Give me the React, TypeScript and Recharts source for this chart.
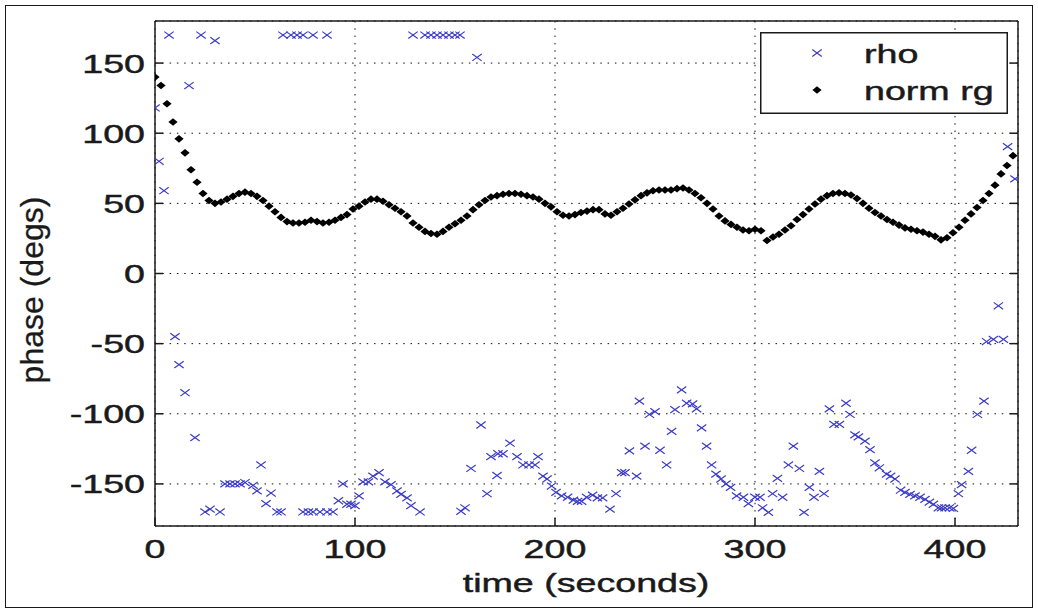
import {
  CartesianGrid,
  Legend,
  Scatter,
  ScatterChart,
  XAxis,
  YAxis,
} from 'recharts';

// rho: scattered phase estimates (time s, phase deg)
const rhoTime = [
  0, 2, 4.5, 7, 17, 23, 30, 64, 68, 71, 74, 79, 86, 129, 135, 138, 141, 144, 147, 150, 152.5, 161,
  10, 12, 15, 20, 25, 27.5, 32.5, 35, 37.5, 40, 42.5, 45, 49, 51, 53, 55.5, 58, 61, 63,
  74, 76.7, 79, 82.5, 86, 89, 91.7, 94, 96, 98, 100, 102, 104, 106.7, 109, 112, 115, 118, 121, 123, 126, 128, 132.5,
  153, 155, 158, 163, 166, 168, 171, 171.5, 174, 177.5, 181, 184, 187, 190, 191.5, 194, 196,
  198.3, 200.5, 203.3, 206.3, 209.2, 211.3, 213.3, 215.8, 218.8, 221.2, 223.8, 227.5, 230.5, 233.3, 235, 237.2,
  240.8, 242.2, 245, 247.2, 250, 252.5, 255.8, 258.3, 260, 263.3, 265.8, 268.8, 270.8, 273.3, 275.8, 278.3,
  280.5, 283, 285.5, 287.8, 290.8, 294.2, 296.7, 300, 302.5, 303.8, 306.7, 308.8, 311.2, 313.8, 316.7, 319.2,
  322.2, 324.5, 327.2, 329.5, 332.2, 334.5, 337.2, 339.5, 342.2, 345.5, 347.5, 350, 351.7, 355, 357.5, 360,
  362.2, 365.8, 367.8, 370, 372.8, 375, 377.5, 380, 382.5, 385, 387.2, 389.2, 391.7, 393.3, 395, 397.2, 399.2,
  401.7, 403.3, 406.7, 408.3, 411.2, 414.5, 415.8, 419.2, 421.7, 424.2, 426.3, 430,
];
const rhoPhase = [
  118, 80, 59, 170, 134, 170, 166, 170, 170, 170, 170, 170, 170, 170, 170, 170, 170, 170, 170, 170, 170, 154,
  -45, -65, -85, -117, -170, -168, -170, -150, -150, -150, -150, -149, -151, -155, -136.5, -164, -156.5, -170, -170,
  -170, -170, -170, -170, -170, -170, -162, -150, -164.5, -164.5, -165.5, -158.5, -148.5, -148.5, -144.5, -142, -148.5, -150.5, -155, -157.5, -160, -165.5, -170,
  -169.5, -167, -139, -108, -157, -130.5, -144, -128.5, -128.5, -121, -130.5, -136.5, -136.5, -136.5, -130.5, -144.5, -146.5,
  -151.5, -156, -158.5, -159.5, -161.5, -162.5, -162.5, -159.5, -158, -160, -160, -168, -157, -142, -142, -126.5,
  -144.5, -91, -123, -100.5, -98.5, -126, -136.5, -112.5, -97, -83, -92.5, -93, -96.5, -110, -123, -136.5,
  -143, -146.5, -150, -152.5, -158.5, -159.5, -164, -159.5, -159.5, -167, -170.3, -157, -146, -159.5, -136.5, -123,
  -139, -170.3, -152.5, -159.5, -141, -157, -96.5, -107.5, -107.5, -92.5, -100.5, -115, -116.5, -119.5, -125.5, -135,
  -138.5, -143, -144.5, -146.5, -154.5, -156, -157.5, -158.5, -159.5, -161, -163, -164.5, -167, -167, -167, -167, -167.5,
  -157, -150.5, -141, -126, -100.5, -91, -48.5, -47, -23, -47, 90.5, 67.5,
];

// norm rg: sampled every 3 s from t = 0
const RG_STEP = 3;
const rgPhase = [
  140, 134, 121, 108, 96, 86, 74, 65, 57, 52,
  50, 51, 53, 55, 57, 58, 57, 55, 52, 48,
  44, 40, 37, 36, 36, 36.5, 38, 37, 36, 36.5,
  38, 40, 42, 46, 48, 51, 53, 53, 51.5, 49,
  46.5, 44, 41, 36, 33, 30, 28.5, 28, 30, 33,
  35.5, 38, 41, 45.5, 49, 52, 54.5, 55.5, 56.5, 57,
  57, 56.5, 55.5, 54.5, 53, 50, 47.5, 44, 41.5, 41,
  42, 43.5, 44.5, 45.5, 45.5, 42.5, 41.5, 44, 46.5, 49.5,
  52.5, 55.5, 57.5, 59, 59.5, 59.5, 59.5, 60.5, 61, 59.5,
  57, 54, 50, 46, 41, 37.5, 35, 33, 31, 30.5,
  31.5, 30.5, 23.5, 26, 28, 31, 34, 38.5, 42, 46,
  49.5, 53, 55.5, 57, 57.5, 57, 56, 53.5, 50, 46.5,
  43.5, 41, 38.5, 36.5, 34.5, 32.5, 31.5, 30.5, 29.5, 28,
  26.5, 24, 25.5, 29, 33, 38, 42.5, 47, 52, 57,
  63, 71, 77, 84,
];

const xTicks = [0, 100, 200, 300, 400];
const yTicks = [-150, -100, -50, 0, 50, 100, 150];

const rhoData = rhoTime.map((t, i) => ({ t, v: rhoPhase[i] }));
const rgData = rgPhase.map((v, i) => ({ t: i * RG_STEP, v }));

const FONT = '"Liberation Sans", Arial, Helvetica, sans-serif';
const FS = 26.5;
const SX = 1.42;
const INK = '#1a1a1a';
const BLUE = '#3a3ac6';

function Stretch({ x, y, anchor, children }: any) {
  return (
    <text
      transform={`translate(${x},${y}) scale(${SX},1)`}
      textAnchor={anchor}
      fontFamily={FONT}
      fontSize={FS}
      fill={INK}
      stroke={INK}
      strokeWidth={0.45}
    >
      {children}
    </text>
  );
}

function LeftTick({ x, y, payload }: any) {
  return (
    <g>
      <line x1={x} y1={y} x2={x + 8} y2={y} stroke={INK} strokeWidth={1.5} />
      <Stretch x={x - 10} y={y + 9.5} anchor="end">{payload.value}</Stretch>
    </g>
  );
}

function RightTick({ x, y }: any) {
  return <line x1={x} y1={y} x2={x - 8} y2={y} stroke={INK} strokeWidth={1.5} />;
}

function BottomTick({ x, y, payload }: any) {
  return (
    <g>
      <line x1={x} y1={y} x2={x} y2={y - 8} stroke={INK} strokeWidth={1.5} />
      <Stretch x={x} y={y + 32} anchor="middle">{payload.value}</Stretch>
    </g>
  );
}

function TopTick({ x, y }: any) {
  return <line x1={x} y1={y} x2={x} y2={y + 8} stroke={INK} strokeWidth={1.5} />;
}

function Cross({ cx, cy }: any) {
  const rx = 4.7;
  const ry = 3.4;
  return (
    <g stroke={BLUE} strokeWidth={1.2}>
      <line x1={cx - rx} y1={cy - ry} x2={cx + rx} y2={cy + ry} />
      <line x1={cx - rx} y1={cy + ry} x2={cx + rx} y2={cy - ry} />
    </g>
  );
}

function Diamond({ cx, cy }: any) {
  const rx = 4.6;
  const ry = 3.8;
  return (
    <polygon
      points={`${cx},${cy - ry} ${cx + rx},${cy} ${cx},${cy + ry} ${cx - rx},${cy}`}
      fill="#000"
    />
  );
}

function LegendBox() {
  return (
    <svg width={248} height={82} style={{ display: 'block' }}>
      <rect x={0.75} y={0.75} width={246.5} height={80.5} fill="#fff" stroke={INK} strokeWidth={1.5} />
      <Cross cx={57} cy={21} />
      <Diamond cx={57} cy={58} />
      <Stretch x={104} y={31} anchor="start">rho</Stretch>
      <Stretch x={104} y={68} anchor="start">norm rg</Stretch>
    </svg>
  );
}

export default function App() {
  return (
    <div style={{ position: 'absolute', left: 0, top: 0, width: 1038, height: 613, background: '#fff' }}>
      <ScatterChart width={1038} height={613} margin={{ top: 0, right: 0, bottom: 0, left: 0 }}>
        <CartesianGrid stroke="#111" strokeDasharray="1.5 5.8" />
        <XAxis
          dataKey="t"
          type="number"
          domain={[0, 431.5]}
          ticks={xTicks}
          allowDataOverflow
          height={87}
          tickSize={0}
          tickMargin={0}
          tick={<BottomTick />}
          axisLine={{ stroke: INK, strokeWidth: 1.5 }}
          label={{
            content: () => <Stretch x={586} y={592} anchor="middle">time (seconds)</Stretch>,
          }}
        />
        <XAxis
          xAxisId="top"
          orientation="top"
          type="number"
          domain={[0, 431.5]}
          ticks={xTicks}
          allowDataOverflow
          height={21}
          tickSize={0}
          tickMargin={0}
          tick={<TopTick />}
          axisLine={{ stroke: INK, strokeWidth: 1.5 }}
        />
        <YAxis
          dataKey="v"
          type="number"
          domain={[-180, 180]}
          ticks={yTicks}
          allowDataOverflow
          width={155}
          tickSize={0}
          tickMargin={0}
          tick={<LeftTick />}
          axisLine={{ stroke: INK, strokeWidth: 1.5 }}
          label={{
            content: () => (
              <text
                transform="translate(43,290) rotate(-90)"
                textAnchor="middle"
                fontFamily={FONT}
                fontSize={32}
                fill={INK}
                stroke={INK}
                strokeWidth={0.3}
              >
                phase (degs)
              </text>
            ),
          }}
        />
        <YAxis
          yAxisId="right"
          orientation="right"
          type="number"
          domain={[-180, 180]}
          ticks={yTicks}
          allowDataOverflow
          width={20}
          tickSize={0}
          tickMargin={0}
          tick={<RightTick />}
          axisLine={{ stroke: INK, strokeWidth: 1.5 }}
        />
        <Scatter name="rho" data={rhoData} shape={<Cross />} isAnimationActive={false} />
        <Scatter name="norm rg" data={rgData} shape={<Diamond />} isAnimationActive={false} />
        <Legend
          layout="vertical"
          align="center"
          verticalAlign="middle"
          wrapperStyle={{ left: 760, top: 32, width: 248, height: 82 }}
          content={() => <LegendBox />}
        />
      </ScatterChart>
      <div
        style={{
          position: 'absolute',
          left: 5,
          top: 5,
          width: 1028,
          height: 603,
          border: `1.5px solid ${INK}`,
          boxSizing: 'border-box',
          pointerEvents: 'none',
        }}
      />
    </div>
  );
}
